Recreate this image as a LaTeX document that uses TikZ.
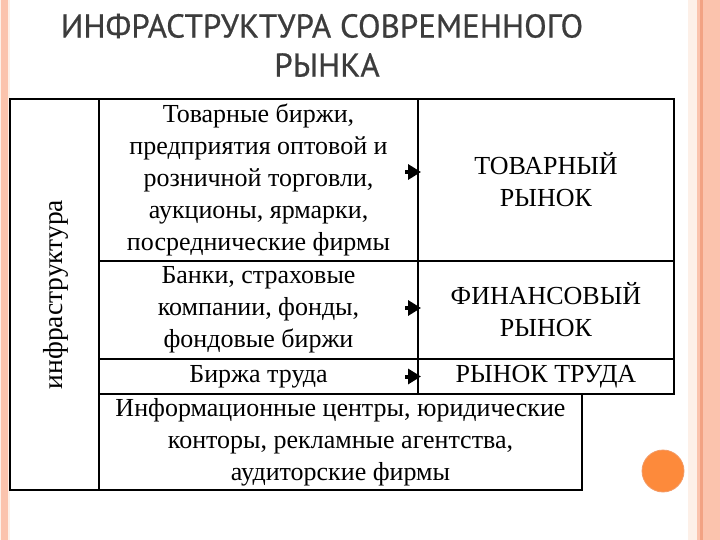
\documentclass[tikz,border=0pt]{standalone}
\usepackage{fontspec}
\setmainfont{Liberation Serif}
\newfontfamily\titlefont[FakeBold=0.6]{PT Sans}
\usetikzlibrary{arrows.meta}
\definecolor{salmon}{HTML}{FBC3AD}
\definecolor{salmondark}{HTML}{F2A283}
\definecolor{paleedge}{HTML}{FDF0E8}
\definecolor{titlegray}{HTML}{3C3C3C}
\definecolor{dotorange}{HTML}{FD8A3B}
\definecolor{dotedge}{HTML}{F39A66}
\begin{document}
\begin{tikzpicture}[x=1pt,y=-1pt,
  cell/.style={draw, line width=1.6pt, rectangle, inner sep=0pt, outer sep=0pt,
    align=center, font=\fontsize{26}{32}\selectfont},
  celltext/.style={inner sep=0pt, align=center, font=\fontsize{27.5}{32}\selectfont},
  titletext/.style={inner sep=0pt, align=center, text=titlegray, font=\titlefont\fontsize{33}{33}\selectfont},
  arr/.style={-{Triangle[length=13pt,width=15pt]}, line width=4pt}]
\useasboundingbox (0,0) rectangle (720,540);
\fill[white] (0,0) rectangle (720,540);
% side strips
\fill[paleedge] (0,0) rectangle (10,540);
\fill[salmon] (1,0) rectangle (7.5,540);
\fill[paleedge] (688,0) rectangle (720,540);
\fill[salmon] (697,0) rectangle (720,540);
\fill[salmondark] (700,0) rectangle (703,540);
% title
\node[titletext] (t1) at (322,26) {ИНФРАСТРУКТУРА СОВРЕМЕННОГО};
\node[titletext] (t2) at (327,65) {РЫНКА};
% table cells
\node[cell, minimum width=89pt, minimum height=391pt] (infra) at (54.5,294.5) {};
\node[celltext, rotate=90] (infratext) at ([xshift=1pt]infra.center) {инфраструктура};
\node[cell, minimum width=319pt, minimum height=162pt] (c1) at (258.5,180) {Товарные биржи,\\предприятия оптовой и\\розничной торговли,\\аукционы, ярмарки,\\посреднические фирмы};
\node[cell, minimum width=319pt, minimum height=98pt] (c2) at (258.5,310) {Банки, страховые\\компании, фонды,\\фондовые биржи};
\node[cell, minimum width=319pt, minimum height=35pt] (c3) at (258.5,376.5) {Биржа труда};
\node[cell, minimum width=256pt, minimum height=162pt] (r1) at (546,180) {ТОВАРНЫЙ\\РЫНОК};
\node[cell, minimum width=256pt, minimum height=98pt] (r2) at (546,310) {ФИНАНСОВЫЙ\\РЫНОК};
\node[cell, minimum width=256pt, minimum height=35pt] (r3) at (546,376.5) {РЫНОК ТРУДА};
\node[cell, minimum width=483pt, minimum height=96pt] (info) at (340.5,442) {Информационные центры, юридические\\конторы, рекламные агентства,\\аудиторские фирмы};
% arrows
\draw[arr] ([xshift=-13pt,yshift=8pt]r1.west) -- ([xshift=3pt,yshift=8pt]r1.west);
\draw[arr] ([xshift=-13pt,yshift=2pt]r2.west) -- ([xshift=3pt,yshift=2pt]r2.west);
\draw[arr] ([xshift=-13pt]r3.west) -- ([xshift=3pt]r3.west);
% decorative dot
\fill[dotorange, draw=dotedge, line width=0.8pt] (663,471) circle (21pt);
\end{tikzpicture}
\end{document}
